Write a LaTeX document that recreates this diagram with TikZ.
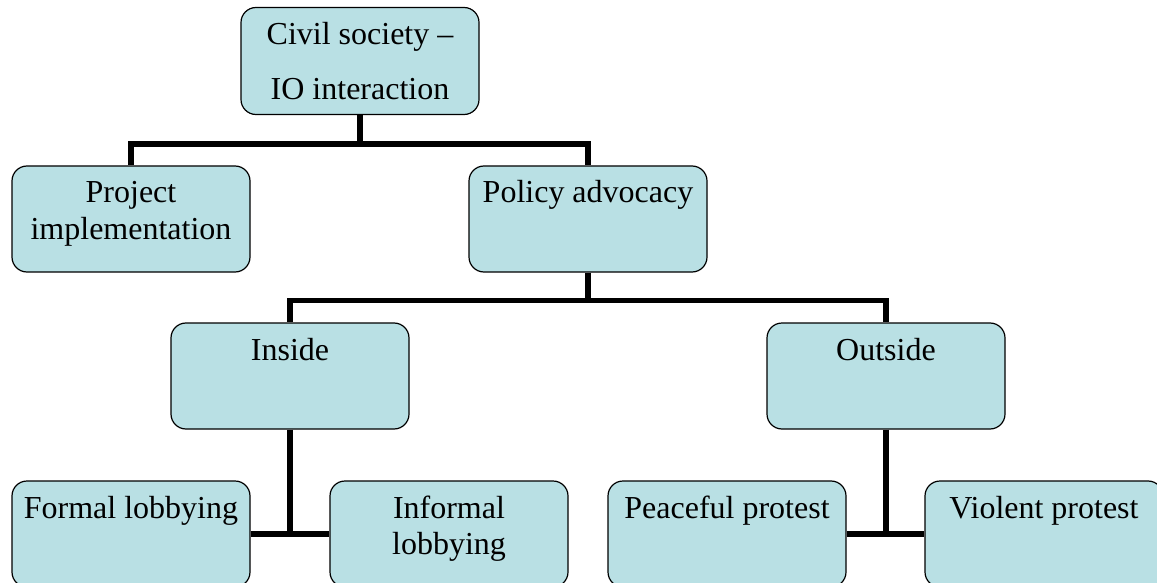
\documentclass[tikz,border=0pt]{standalone}
\usepackage{fontspec}
\setmainfont{Liberation Serif}
\usetikzlibrary{positioning}
\usetikzlibrary{calc}
\definecolor{boxfill}{RGB}{185,224,228}

\begin{document}
\begin{tikzpicture}[x=0.5pt, y=-0.5pt,
  box/.style={draw, line width=0.6pt, rounded corners=7.5pt, fill=boxfill,
    minimum width=119pt, minimum height=53pt, inner xsep=2pt, inner ysep=0pt,
    text height=18.5pt, text depth=34.5pt, align=center,
    font=\fontsize{16}{18}\selectfont},
  twoline/.style={box, text height=36.5pt, text depth=16.5pt},
  link/.style={line width=2.8pt}]

%---------------------------------------
% Frame (pixel grid of the reference)
%---------------------------------------
\useasboundingbox (0,0) rectangle (1157,583);
\clip (0,0) rectangle (1157,583);

%====================================================
% Boxes
%====================================================
\node[box, text height=46pt, text depth=7.5pt,
  font=\fontsize{16}{27.5}\selectfont] (root) at (360,61)
  {Civil society --\\IO interaction};

\node[twoline] (project) at (131,219) {Project\\implementation};
\node[box]     (policy)  at (588,219) {Policy advocacy};

\node[box] (inside)  at (290,376) {Inside};
\node[box] (outside) at (886,376) {Outside};

\node[box]     (formal)   at (131,534)  {Formal lobbying};
\node[twoline] (informal) at (449,534)  {Informal\\lobbying};
\node[box]     (peaceful) at (727,534)  {Peaceful protest};
\node[box]     (violent)  at (1044,534) {Violent protest};

%====================================================
% Connectors
%====================================================
% root -> project / policy
\coordinate (busA) at ($(root.south)+(0,29)$);
\draw[link] (root.south) -- (busA);
\draw[link] (busA) -| (project.north);
\draw[link] (busA) -| (policy.north);

% policy -> inside / outside
\coordinate (busB) at ($(policy.south)+(0,28)$);
\draw[link] (policy.south) -- (busB);
\draw[link] (busB) -| (inside.north);
\draw[link] (busB) -| (outside.north);

% inside -> lobbying
\draw[link] (formal.east) -- (informal.west);
\draw[link] (inside.south) -- (inside.south |- formal.east);

% outside -> protest
\draw[link] (peaceful.east) -- (violent.west);
\draw[link] (outside.south) -- (outside.south |- peaceful.east);

\end{tikzpicture}
\end{document}
